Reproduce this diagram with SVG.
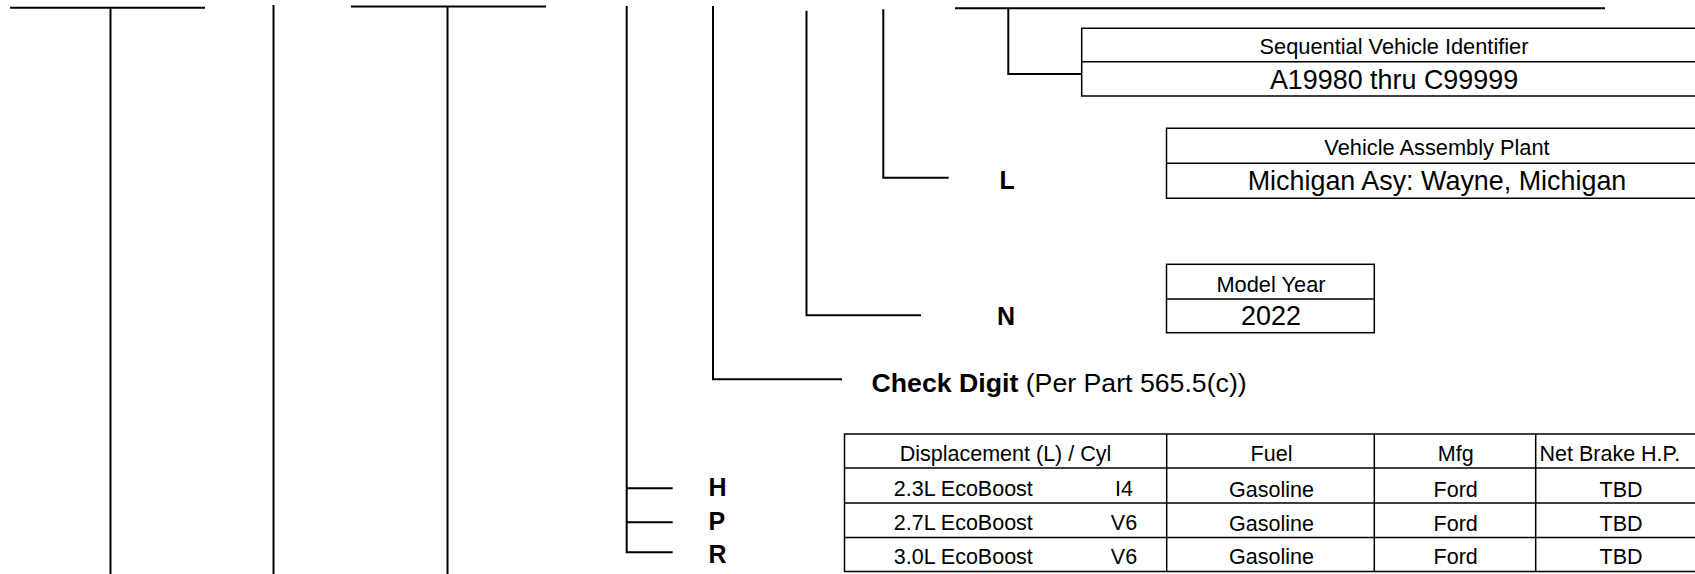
<svg xmlns="http://www.w3.org/2000/svg" width="1695" height="574" viewBox="0 0 1695 574">
<style>
.c{stroke:#000;stroke-width:2;fill:none}
.b{stroke:#000;stroke-width:1.5;fill:none}
text{font-family:"Liberation Sans",Arial,sans-serif;fill:#000}
.lab{font-size:21.8px;text-anchor:middle}
.val{font-size:26.9px;text-anchor:middle}
.code{font-size:25px;font-weight:bold}
.t{font-size:21.5px;text-anchor:middle}
</style>
<rect width="1695" height="574" fill="#fff"/>
<g id="connectors">
<path class="c" d="M10 7.7H205M110.5 7.7V574"/>
<path class="c" d="M273.5 5V574"/>
<path class="c" d="M351 6.5H546M447.5 6.5V574"/>
<path class="c" d="M626.7 6V552.3H672.7M626.7 488.3H672.7M626.7 522.3H672.7"/>
<path class="c" d="M713 6V379.3H842"/>
<path class="c" d="M806.5 10.7V315.3H921"/>
<path class="c" d="M883.3 9.3V177.7H948.7"/>
<path class="c" d="M955 8.3H1605M1008.3 8.3V74H1081"/>
</g>
<g id="seq">
<path class="b" d="M1700 28.3H1081.7V96H1700M1081.7 61.7H1700"/>
<text class="lab" x="1394" y="54.3">Sequential Vehicle Identifier</text>
<text class="val" x="1394" y="89.3">A19980 thru C99999</text>
</g>
<g id="plant">
<path class="b" d="M1700 128.3H1166.5V198.3H1700M1166.5 163.3H1700"/>
<text class="lab" x="1437" y="155">Vehicle Assembly Plant</text>
<text class="val" x="1437" y="190">Michigan Asy: Wayne, Michigan</text>
<text class="code" x="999.5" y="189">L</text>
</g>
<g id="year">
<rect class="b" x="1166.5" y="264.3" width="207.8" height="68.4"/>
<path class="b" d="M1166.5 299H1374.3"/>
<text class="lab" x="1271" y="291.7">Model Year</text>
<text class="val" x="1271" y="325">2022</text>
<text class="code" x="997" y="325">N</text>
</g>
<g id="check">
<text x="871.5" y="391.7" style="font-size:26.7px"><tspan font-weight="bold">Check Digit</tspan> (Per Part 565.5(c))</text>
</g>
<g id="engine">
<text class="code" x="708.5" y="496">H</text>
<text class="code" x="708.5" y="530">P</text>
<text class="code" x="708.5" y="563.3">R</text>
<path class="b" d="M1700 434H844.5V571.5H1700M844.5 468H1700M844.5 503H1700M844.5 537.5H1700M1166.7 434V571.5M1374.3 434V571.5M1535.7 434V571.5"/>
<text class="t" x="1005.5" y="460.7">Displacement (L) / Cyl</text>
<text class="t" x="1271.5" y="460.7">Fuel</text>
<text class="t" x="1455.7" y="460.7">Mfg</text>
<text x="1539.5" y="460.7" style="font-size:21.5px">Net Brake H.P.</text>
<text class="t" x="963.3" y="496">2.3L EcoBoost</text>
<text class="t" x="1124" y="496">I4</text>
<text class="t" x="1271.5" y="496.5">Gasoline</text>
<text class="t" x="1455.7" y="496.5">Ford</text>
<text class="t" x="1621" y="496.5">TBD</text>
<text class="t" x="963.3" y="530">2.7L EcoBoost</text>
<text class="t" x="1124" y="530">V6</text>
<text class="t" x="1271.5" y="530.5">Gasoline</text>
<text class="t" x="1455.7" y="530.5">Ford</text>
<text class="t" x="1621" y="530.5">TBD</text>
<text class="t" x="963.3" y="564">3.0L EcoBoost</text>
<text class="t" x="1124" y="564">V6</text>
<text class="t" x="1271.5" y="564">Gasoline</text>
<text class="t" x="1455.7" y="564">Ford</text>
<text class="t" x="1621" y="564">TBD</text>
</g>
</svg>
